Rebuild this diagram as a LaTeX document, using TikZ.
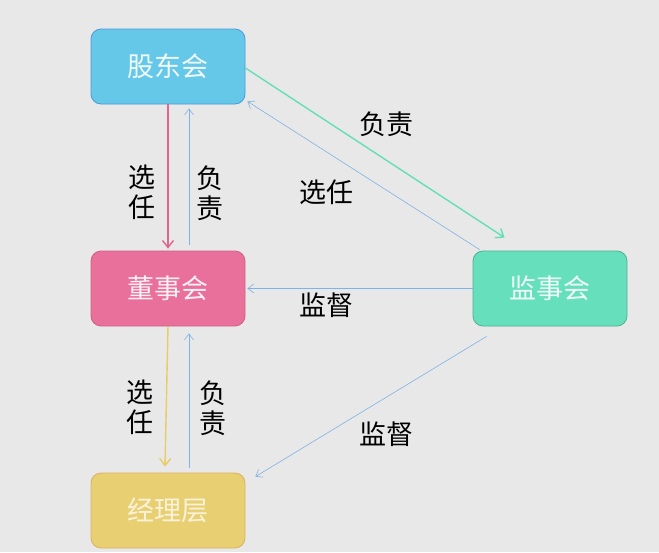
\documentclass[tikz,border=0pt]{standalone}
\usepackage{fontspec}
\setmainfont{Noto Sans CJK SC}
\usepackage{xcolor}
\usetikzlibrary{arrows.meta}

\definecolor{bgcol}{HTML}{E8E8E8}
\definecolor{gdfill}{HTML}{66C8E9}
\definecolor{gdline}{HTML}{4A9BD8}
\definecolor{dshfill}{HTML}{E8709A}
\definecolor{dshline}{HTML}{CF5F84}
\definecolor{jshfill}{HTML}{66E0BC}
\definecolor{jshline}{HTML}{4FB28F}
\definecolor{jlfill}{HTML}{E8CF72}
\definecolor{jlline}{HTML}{DDB064}
\definecolor{pinkln}{HTML}{E0658F}
\definecolor{greenln}{HTML}{63DFB8}
\definecolor{yellowln}{HTML}{E8CC66}
\definecolor{blueln}{HTML}{7FB2E5}

\begin{document}
\begin{tikzpicture}[x=1pt,y=-1pt,
    orgbox/.style={rounded corners=10pt, minimum width=154pt, minimum height=75pt,
        inner sep=0pt, line width=0.8pt, font=\fontsize{27}{31}\selectfont,
        text=white, text opacity=0.9},
    lbl/.style={font=\fontsize{27}{30}\selectfont, text=black, align=center, inner sep=0pt},
    thickarr/.style={line width=1.4pt, -{Straight Barb[length=7pt,width=11pt]}},
    thinarr/.style={draw=blueln, line width=0.6pt, -{Straight Barb[length=6pt,width=9pt]}}]

% --- SFONDO ---
\fill[bgcol] (0,0) rectangle (659,552);
\useasboundingbox (0,0) rectangle (659,552);

% --- BOX ---
\node[orgbox, fill=gdfill, draw=gdline] (gd) at (168,66.5) {股东会};
\node[orgbox, fill=dshfill, draw=dshline] (dsh) at (168,288.5) {董事会};
\node[orgbox, fill=jshfill, draw=jshline] (jsh) at (550,288.5) {监事会};
\node[orgbox, fill=jlfill, draw=jlline, text opacity=0.75] (jl) at (168,510.5) {经理层};

% --- GD <-> DSH ---
\draw[thickarr, pinkln] (gd.south) -- ([yshift=2pt]dsh.north);
\draw[thinarr] ([xshift=21pt,yshift=6pt]dsh.north) -- ([xshift=21pt,yshift=-4pt]gd.south);
\node[lbl] (xr1) at (142,192) {选\\任};
\node[lbl] (fz1) at (210,193) {负\\责};

% --- GD <-> JSH ---
\draw[thickarr, greenln] ([yshift=-1.5pt]gd.east) -- ([xshift=32pt,yshift=13pt]jsh.north west);
\draw[thinarr] ([xshift=7pt,yshift=1pt]jsh.north west) -- ([xshift=2pt,yshift=3pt]gd.south east);
\node[lbl] (fz2) at (386,124) {负责};
\node[lbl] (xr2) at (326,192) {选任};

% --- JSH -> DSH ---
\draw[thinarr] (jsh.west) -- ([xshift=2pt]dsh.east);
\node[lbl] (jd1) at (326,305) {监督};

% --- DSH <-> JL ---
\draw[thickarr, yellowln] (dsh.south) -- ([xshift=-3pt,yshift=6pt]jl.north);
\draw[thinarr] ([xshift=21pt,yshift=5pt]jl.north) -- ([xshift=21pt,yshift=-7pt]dsh.south);
\node[lbl] (xr3) at (140,407) {选\\任};
\node[lbl] (fz3) at (213,408) {负\\责};

% --- JSH -> JL ---
\draw[thinarr] ([xshift=14pt,yshift=-10pt]jsh.south west) -- ([xshift=10pt,yshift=-4pt]jl.north east);
\node[lbl] (jd2) at (386,434) {监督};

\end{tikzpicture}
\end{document}
